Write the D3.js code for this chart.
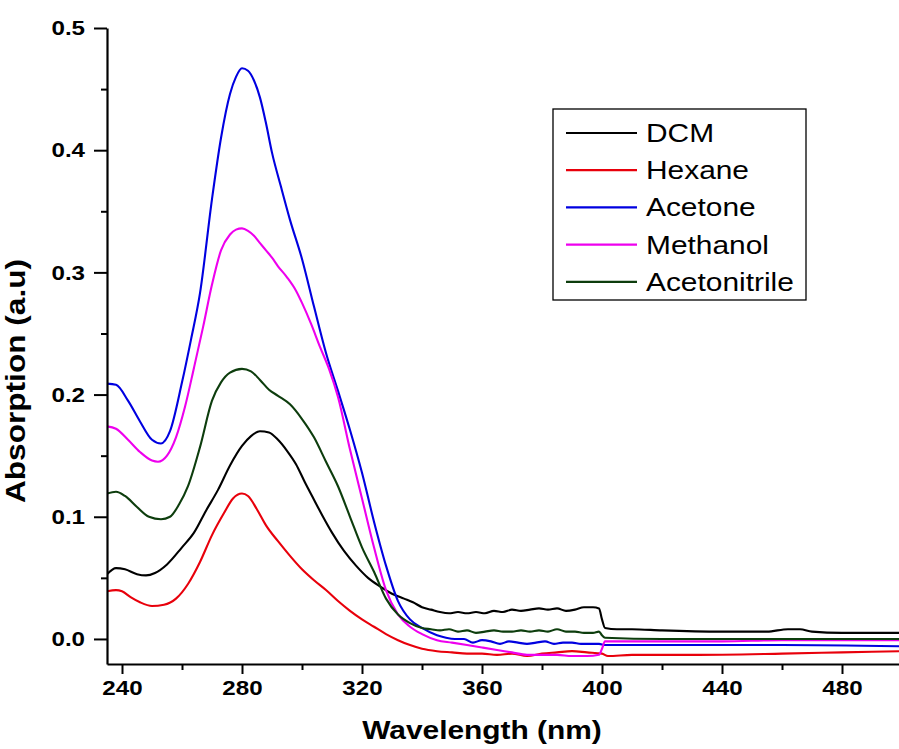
<!DOCTYPE html>
<html>
<head>
<meta charset="utf-8">
<script src="https://cdn.jsdelivr.net/npm/d3@7"></script>
<style>
  html, body { margin: 0; padding: 0; background: #fff; }
  svg { display: block; font-family: "Liberation Sans", Arial, sans-serif; }
</style>
</head>
<body>
<div id="chart"></div>
<script>
// --- data (wavelength nm, absorption a.u) ---
const dcm = [[235,0.053],[238,0.058],[241,0.057],[245,0.053],[248,0.052],[251,0.054],[255,0.061],[260,0.075],[264,0.087],[268,0.105],[272,0.122],[276,0.142],[280,0.158],[283,0.166],[286,0.170],[289,0.169],[292,0.163],[295,0.154],[298,0.143],[301,0.128],[304,0.114],[307,0.100],[310,0.087],[314,0.072],[318,0.060],[322,0.050],[326,0.043],[330,0.037],[334,0.033],[337,0.030],[340,0.026],[343,0.024],[346,0.022],[349,0.021],[352,0.022],[355,0.021],[358,0.022],[361,0.021],[364,0.023],[367,0.022],[370,0.024],[373,0.023],[376,0.024],[379,0.025],[382,0.024],[385,0.025],[388,0.023],[391,0.024],[394,0.026],[397,0.026],[399,0.025],[400,0.016],[401,0.009],[405,0.008],[410,0.008],[420,0.007],[440,0.006],[455,0.006],[462,0.008],[466,0.008],[470,0.006],[480,0.005],[500,0.005]];
const hexane = [[235,0.039],[238,0.040],[240,0.039],[243,0.034],[246,0.030],[250,0.027],[254,0.028],[258,0.033],[262,0.045],[266,0.063],[270,0.085],[274,0.103],[277,0.115],[280,0.119],[282,0.117],[285,0.106],[288,0.093],[292,0.080],[296,0.068],[300,0.057],[304,0.048],[308,0.040],[312,0.031],[316,0.023],[320,0.016],[324,0.010],[328,0.004],[332,-0.001],[336,-0.005],[340,-0.008],[345,-0.010],[350,-0.011],[355,-0.012],[360,-0.012],[365,-0.013],[370,-0.012],[375,-0.014],[380,-0.012],[385,-0.011],[390,-0.010],[395,-0.011],[400,-0.012],[402,-0.014],[410,-0.013],[430,-0.013],[460,-0.012],[480,-0.011],[500,-0.010]];
const acetone = [[235,0.209],[238,0.208],[242,0.195],[246,0.178],[250,0.163],[253,0.160],[256,0.170],[260,0.210],[263,0.245],[266,0.283],[270,0.360],[273,0.410],[276,0.446],[278,0.460],[280,0.467],[282,0.465],[284,0.457],[286,0.443],[288,0.422],[290,0.398],[293,0.370],[296,0.343],[300,0.311],[304,0.272],[308,0.234],[312,0.203],[316,0.171],[320,0.136],[324,0.096],[328,0.060],[332,0.031],[336,0.016],[340,0.009],[345,0.003],[348,0.001],[351,0.000],[354,0.000],[357,-0.003],[360,-0.001],[363,-0.002],[366,-0.004],[369,-0.002],[372,-0.003],[375,-0.004],[378,-0.003],[381,-0.002],[384,-0.004],[387,-0.003],[390,-0.003],[393,-0.004],[396,-0.004],[399,-0.004],[401,-0.005],[420,-0.005],[460,-0.005],[500,-0.006]];
const methanol = [[235,0.174],[238,0.172],[242,0.163],[246,0.153],[250,0.146],[252,0.145],[255,0.150],[258,0.165],[261,0.190],[264,0.222],[267,0.255],[270,0.290],[273,0.318],[276,0.331],[278,0.335],[280,0.336],[282,0.334],[284,0.330],[286,0.324],[288,0.318],[290,0.312],[292,0.305],[295,0.296],[298,0.285],[300,0.275],[303,0.258],[306,0.239],[309,0.221],[312,0.198],[316,0.155],[320,0.115],[324,0.075],[328,0.040],[332,0.020],[336,0.010],[340,0.004],[345,-0.001],[350,-0.003],[355,-0.005],[360,-0.007],[365,-0.009],[370,-0.011],[375,-0.013],[380,-0.013],[385,-0.013],[390,-0.014],[395,-0.014],[399,-0.013],[400,-0.008],[401,-0.002],[420,-0.002],[440,-0.002],[460,-0.001],[500,-0.001]];
const acetonitrile = [[235,0.119],[238,0.1205],[241,0.117],[245,0.108],[249,0.100],[253,0.098],[256,0.100],[259,0.110],[262,0.125],[266,0.157],[270,0.195],[273,0.210],[276,0.218],[280,0.221],[283,0.219],[286,0.212],[289,0.204],[292,0.199],[296,0.192],[300,0.180],[304,0.165],[308,0.145],[312,0.125],[316,0.100],[320,0.075],[324,0.055],[328,0.033],[332,0.020],[336,0.013],[340,0.009],[343,0.008],[346,0.007],[349,0.008],[352,0.006],[355,0.007],[358,0.005],[361,0.006],[364,0.007],[367,0.006],[370,0.006],[373,0.007],[376,0.006],[379,0.007],[382,0.006],[385,0.008],[388,0.006],[391,0.006],[394,0.005],[397,0.005],[399,0.006],[400,0.003],[401,0.001],[420,0.000],[440,0.000],[460,0.000],[480,0.000],[500,0.000]];

const seriesNames = ["DCM", "Hexane", "Acetone", "Methanol", "Acetonitrile"];
const seriesData = [dcm, hexane, acetone, methanol, acetonitrile];
const seriesColors = ["#000000", "#e8000b", "#0000e0", "#ee00ee", "#0d3d0d"];

const xMajor = [240, 280, 320, 360, 400, 440, 480];
const xMinor = [260, 300, 340, 380, 420, 460, 500];
const yMajor = [0.0, 0.1, 0.2, 0.3, 0.4, 0.5];
const yMinor = [0.05, 0.15, 0.25, 0.35, 0.45];

// --- layout ---
const W = 899, H = 749;
const plot = { left: 107, right: 902, top: 28, bottom: 664 };
const SX = 1.15; // the original font renders a bit wider

const svg = d3.select("#chart").append("svg")
    .attr("width", W)
    .attr("height", H);

const x = d3.scaleLinear().domain([235, 500]).range([plot.left, plot.right]);
const y = d3.scaleLinear().domain([-0.0205, 0.5]).range([plot.bottom, plot.top]);

svg.append("clipPath").attr("id", "clip")
    .append("rect")
    .attr("x", plot.left).attr("y", plot.top - 10)
    .attr("width", plot.right - plot.left).attr("height", plot.bottom - plot.top + 10);

// lines
const line = d3.line()
    .x(d => x(d[0]))
    .y(d => y(d[1]))
    .curve(d3.curveMonotoneX);

svg.append("g").attr("clip-path", "url(#clip)")
    .selectAll("path")
    .data(seriesData)
    .enter().append("path")
    .attr("d", line)
    .attr("fill", "none")
    .attr("stroke", (d, i) => seriesColors[i])
    .attr("stroke-width", 2.1)
    .attr("stroke-linejoin", "round");

// minor ticks first, then main axes over them
svg.append("g")
    .attr("transform", `translate(0,${plot.bottom})`)
    .call(d3.axisBottom(x).tickValues(xMinor).tickSize(6).tickSizeOuter(0).tickFormat(""))
    .call(g => g.select(".domain").remove());
svg.append("g")
    .attr("transform", `translate(${plot.left},0)`)
    .call(d3.axisLeft(y).tickValues(yMinor).tickSize(6).tickSizeOuter(0).tickFormat(""))
    .call(g => g.select(".domain").remove());

const xAxis = svg.append("g")
    .attr("transform", `translate(0,${plot.bottom})`)
    .call(d3.axisBottom(x).tickValues(xMajor).tickSize(10).tickSizeOuter(0).tickPadding(6).tickFormat(d3.format("d")));
const yAxis = svg.append("g")
    .attr("transform", `translate(${plot.left},0)`)
    .call(d3.axisLeft(y).tickValues(yMajor).tickSize(13).tickSizeOuter(0).tickPadding(9).tickFormat(d3.format(".1f")));

svg.selectAll(".tick line").attr("stroke", "#000").attr("stroke-width", 2);
[xAxis, yAxis].forEach(a => {
    a.select(".domain").attr("stroke", "#000").attr("stroke-width", 2.2);
    a.selectAll("text")
        .attr("fill", "#000")
        .style("font-size", "21px")
        .style("font-weight", "bold")
        .style("font-family", "'Liberation Sans', Arial, sans-serif");
});
yAxis.selectAll("text")
    .attr("x", function () { return +d3.select(this).attr("x") / SX; })
    .attr("transform", `scale(${SX},1)`);
xAxis.selectAll("text").attr("transform", `scale(${SX},1)`);

// axis titles
svg.append("text")
    .attr("transform", `translate(482,739) scale(${SX},1)`)
    .attr("text-anchor", "middle")
    .style("font-size", "26px")
    .style("font-weight", "bold")
    .text("Wavelength (nm)");

svg.append("text")
    .attr("transform", `translate(25,381) rotate(-90) scale(${SX},1)`)
    .attr("text-anchor", "middle")
    .style("font-size", "27.5px")
    .style("font-weight", "bold")
    .text("Absorption (a.u)");

// legend
const legend = svg.append("g").attr("transform", "translate(553,109)");
legend.append("rect")
    .attr("width", 253).attr("height", 191)
    .attr("fill", "#fff")
    .attr("stroke", "#000").attr("stroke-width", 1.3);

const item = legend.selectAll(".item")
    .data(seriesNames)
    .enter().append("g")
    .attr("class", "item")
    .attr("transform", (d, i) => `translate(0,${24 + i * 37.2})`);

item.append("line")
    .attr("x1", 13).attr("x2", 84)
    .attr("stroke", (d, i) => seriesColors[i])
    .attr("stroke-width", 2.2);

item.append("text")
    .attr("transform", `translate(93,9) scale(${SX},1)`)
    .style("font-size", "26px")
    .text(d => d);
</script>
</body>
</html>
